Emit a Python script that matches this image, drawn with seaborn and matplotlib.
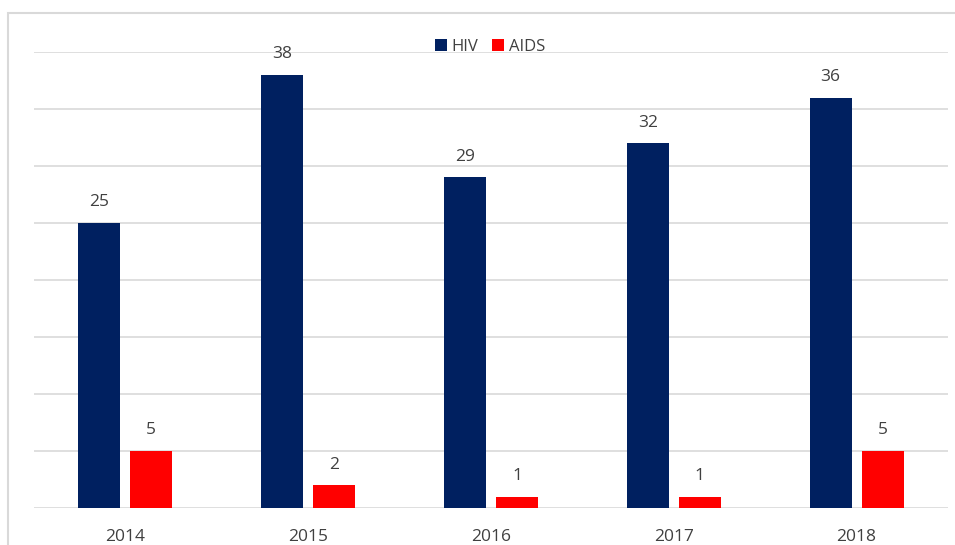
import numpy as np
import pandas as pd
import matplotlib
matplotlib.use("Agg")
import matplotlib.pyplot as plt
import seaborn as sns
from matplotlib.patches import Rectangle

anos = ["2014", "2015", "2016", "2017", "2018"]
hiv = [25, 38, 29, 32, 36]
aids = [5, 2, 1, 1, 5]
series = ["HIV", "AIDS"]
cores = ["#002060", "#FF0000"]

df = pd.DataFrame({
    "ano": anos * 2,
    "valor": hiv + aids,
    "serie": [series[0]] * len(anos) + [series[1]] * len(anos),
})

sns.set_style("white")
plt.rcParams["font.family"] = ["Open Sans", "DejaVu Sans"]
texto = "#404040"

fig = plt.figure(figsize=(9.55, 5.45), dpi=100)
ax = fig.add_axes([34 / 955, 37 / 545, 914 / 955, 456 / 545])

sns.barplot(data=df, x="ano", y="valor", hue="serie", palette=cores,
            saturation=1, width=0.568, gap=0.19, linewidth=0,
            ax=ax, legend=True)

ax.set_ylim(0, 40)
ax.set_yticks(np.arange(0, 41, 5))
ax.yaxis.grid(True, color="#d9d9d9", linewidth=1.2)
ax.set_axisbelow(True)
ax.set_yticklabels([])
ax.tick_params(axis="y", length=0)
ax.tick_params(axis="x", length=0, pad=15, labelsize=12.5, labelcolor=texto)
for s in ax.spines.values():
    s.set_visible(False)
ax.set_xlabel("")
ax.set_ylabel("")

for cont in ax.containers:
    ax.bar_label(cont, padding=9, fontsize=12.5, color=texto)

leg = ax.legend(loc="center", bbox_to_anchor=(490 / 955, 1 - 47 / 545),
                bbox_transform=fig.transFigure, ncol=2, frameon=False,
                fontsize=12, handlelength=0.7, handleheight=0.7,
                handletextpad=0.3, columnspacing=0.8, labelcolor=texto)

fig.patches.append(Rectangle((8 / 955, -0.2), 1.2, 1.2 - 13 / 545,
                             transform=fig.transFigure, fill=False,
                             edgecolor="#d9d9d9", linewidth=1.5))

fig.savefig("out.png", dpi=100)
